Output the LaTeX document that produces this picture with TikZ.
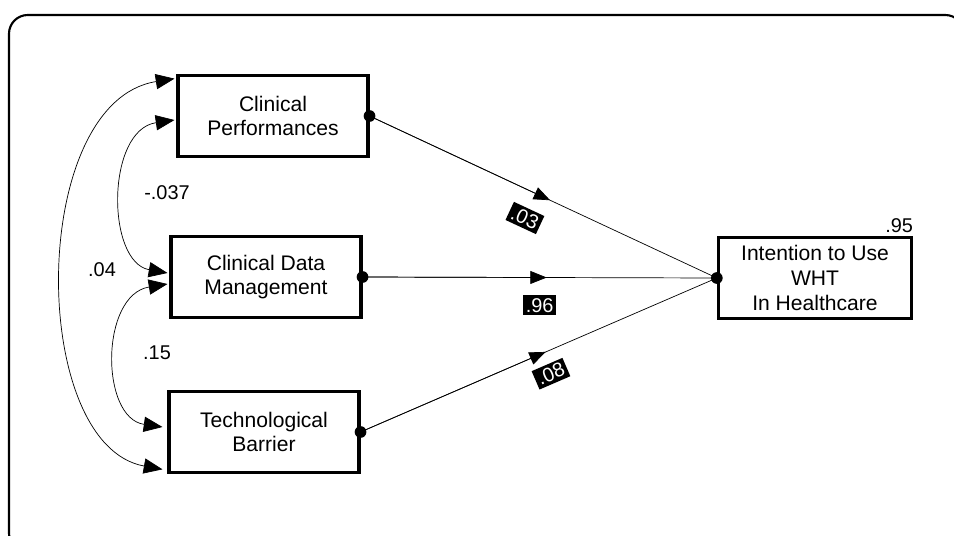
\documentclass[tikz,border=0pt]{standalone}
\usepackage{fontspec}
\setmainfont{Liberation Sans}
\usetikzlibrary{arrows.meta,positioning,calc}
\tikzset{arr/.style={draw, -{Triangle[length=14pt,width=11pt]}, line width=0.6pt}}

\begin{document}
\begin{tikzpicture}[x=0.03cm, y=-0.03cm,
    var/.style={draw, line width=2.6pt, minimum width=5.7cm, minimum height=2.45cm, align=center, font={\fontsize{18}{21}\selectfont}},
    coef/.style={fill=black, text=white, inner sep=2.5pt, font={\fontsize{17}{19}\selectfont}},
    dot/.style={circle, fill=black, inner sep=0pt, minimum size=10pt},
    cov/.style={draw, {Triangle[length=16pt,width=13pt]}-{Triangle[length=16pt,width=13pt]}, line width=0.6pt},
    lab/.style={font={\fontsize{17}{19}\selectfont}, inner sep=1pt}]
    \clip (0,0) rectangle (954,536);
    \useasboundingbox (0,0) rectangle (954,536);
    % frame
    \draw[line width=1.8pt, rounded corners=16pt] (9,15) rectangle (964,552);

    \node[var] (CP) at (273,116) {Clinical\\Performances};
    \node[var] (CDM) at (266,277) {Clinical Data\\Management};
    \node[var] (TB) at (264,432) {Technological\\Barrier};
    \node[var, minimum width=5.8cm] (IU) at (815,278) {Intention to Use\\WHT\\In Healthcare};
    \node[lab, above left=1pt and -1pt of IU.north east] (r2) {.95};

    \node[dot] (cpd) at (CP.east) {};
    \node[dot] (cdmd) at (CDM.east) {};
    \node[dot] (tbd) at (TB.east) {};
    \node[dot] (iud) at (IU.west) {};

    % paths
    \draw[line width=0.6pt] (cpd.center) -- (iud.center) node[coef, sloped, pos=0.48, below=14pt] {.03};
    \draw[arr] (cpd.center) -- ($(cpd.center)!0.52!(iud.center)$);
    \draw[line width=0.6pt] (cdmd.center) -- (iud.center) node[coef, pos=0.5, below=15pt] {.96};
    \draw[arr] (cdmd.center) -- ($(cdmd.center)!0.52!(iud.center)$);
    \draw[line width=0.6pt] (tbd.center) -- (iud.center) node[coef, sloped, pos=0.51, below=10pt] {.08};
    \draw[arr] (tbd.center) -- ($(tbd.center)!0.52!(iud.center)$);

    % covariances
    \coordinate (cpa) at ($(CP.west)+(-2,4)$);
    \coordinate (cpb) at ($(CP.north west)+(-2,5)$);
    \coordinate (cdma) at ($(CDM.west)+(-2,-4)$);
    \coordinate (cdmb) at ($(CDM.west)+(-2,7)$);
    \coordinate (tba) at ($(TB.west)+(-5,-5)$);
    \coordinate (tbb) at ($(TB.south west)+(-5,-5)$);
    \draw[cov] (cpa) .. controls (106,130) and (106,262) .. (cdma);
    \draw[cov] (cdmb) .. controls (100,295) and (100,418) .. (tba);
    \draw[cov] (cpb) .. controls (28,102) and (28,445) .. (tbb);
    \node[lab] (c1) at (167,193) {-.037};
    \node[lab] (c2) at (157,353) {.15};
    \node[lab] (c3) at (102,270) {.04};
\end{tikzpicture}
\end{document}
